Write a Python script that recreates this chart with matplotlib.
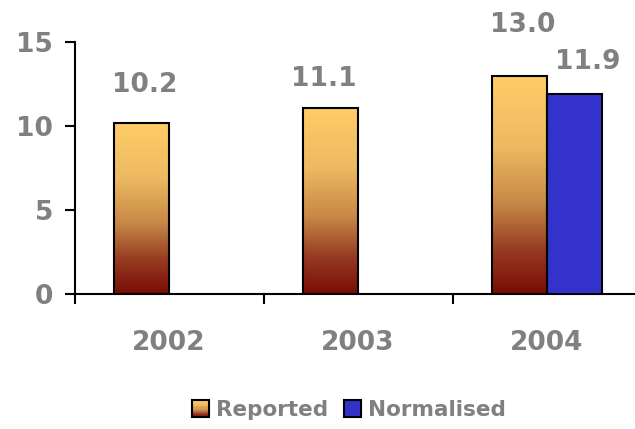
import matplotlib
matplotlib.use("Agg")
import matplotlib.pyplot as plt
import numpy as np
from matplotlib.colors import LinearSegmentedColormap
from matplotlib.patches import Rectangle
from matplotlib.legend_handler import HandlerBase

# ---- data ----
years = ["2002", "2003", "2004"]
reported = [10.2, 11.1, 13.0]
normalised = [None, None, 11.9]
reported_labels = ["10.2", "11.1", "13.0"]
normalised_labels = [None, None, "11.9"]
yticks = [0, 5, 10, 15]

# ---- style ----
GRAY = "#808080"
BLUE = "#3333CC"
FONT = "DejaVu Sans"
FS = 19
grad = LinearSegmentedColormap.from_list(
    "grad",
    [(0.0, "#7A0C06"), (0.2, "#963C22"), (0.42, "#C88A48"),
     (0.68, "#EDBA62"), (1.0, "#FFCC66")])

# label offsets in pixels (dx, dy from bar top to baseline)
rep_off = [(3.5, 31), (-6.5, 22), (3.5, 44)]
norm_off = [None, None, (13, 25)]

fig = plt.figure(figsize=(6.35, 4.29), dpi=100)
ax = fig.add_axes([74.5 / 635, 1 - 294 / 429, 567 / 635, 252 / 429])

w = 0.29
x = np.arange(len(years))
px2pt = 72 / 100

rep_bars = ax.bar(x - w / 2, reported, width=w, facecolor="none",
                  edgecolor="black", linewidth=1.5, zorder=3)
for b in rep_bars:
    x0, y0 = b.get_x(), b.get_y()
    bw, bh = b.get_width(), b.get_height()
    img = ax.imshow(np.linspace(0, 1, 256).reshape(-1, 1), cmap=grad,
                    origin="lower", extent=[x0, x0 + bw, 0, bh],
                    aspect="auto", zorder=2, interpolation="bilinear")
    img.set_clip_path(b)

nx = [xi + w / 2 for xi, v in zip(x, normalised) if v is not None]
nv = [v for v in normalised if v is not None]
ax.bar(nx, nv, width=w, facecolor=BLUE, edgecolor="black",
       linewidth=1.5, zorder=3)

for xi, v, lab, off in zip(x, reported, reported_labels, rep_off):
    ax.annotate(lab, xy=(xi - w / 2, v),
                xytext=(off[0] * px2pt, off[1] * px2pt),
                textcoords="offset points", ha="center", va="baseline",
                fontsize=FS, fontweight="bold", color=GRAY, family=FONT,
                annotation_clip=False)
for xi, v, lab, off in zip(x, normalised, normalised_labels, norm_off):
    if v is None:
        continue
    ax.annotate(lab, xy=(xi + w / 2, v),
                xytext=(off[0] * px2pt, off[1] * px2pt),
                textcoords="offset points", ha="center", va="baseline",
                fontsize=FS, fontweight="bold", color=GRAY, family=FONT,
                annotation_clip=False)

ax.set_xlim(-0.5, len(years) - 0.5)
ax.set_ylim(0, 15)
ax.set_yticks(yticks)
ax.set_yticklabels([str(t) for t in yticks])
ax.set_xticks(np.arange(-0.5, len(years), 1.0))
ax.set_xticklabels([])
ax.set_xticks(x, minor=True)
ax.set_xticklabels(years, minor=True)
ax.tick_params(axis="x", which="major", direction="out", length=7.5,
               width=1.5, color="black")
ax.tick_params(axis="x", which="minor", length=0, pad=26,
               labelsize=FS, labelcolor=GRAY)
ax.tick_params(axis="y", direction="out", length=7.5, width=1.5,
               pad=8, labelsize=FS, labelcolor=GRAY)
for lab in ax.get_xticklabels(minor=True) + ax.get_yticklabels():
    lab.set_fontweight("bold")
    lab.set_family(FONT)

for s in ["top", "right"]:
    ax.spines[s].set_visible(False)
for s in ["left", "bottom"]:
    ax.spines[s].set_linewidth(1.5)
    ax.spines[s].set_color("black")
ax.set_facecolor("white")


class GradHandler(HandlerBase):
    def create_artists(self, legend, orig_handle, xdescent, ydescent,
                       width, height, fontsize, trans):
        n = 16
        arts = []
        for i in range(n):
            r = Rectangle((-xdescent, -ydescent + height * i / n),
                          width, height / n + 0.01,
                          facecolor=grad((i + 0.5) / n), edgecolor="none",
                          transform=trans)
            arts.append(r)
        arts.append(Rectangle((-xdescent, -ydescent), width, height,
                              facecolor="none", edgecolor="black",
                              linewidth=1.5, transform=trans))
        return arts


h_rep = Rectangle((0, 0), 1, 1, facecolor="#E0A050", edgecolor="black")
h_norm = Rectangle((0, 0), 1, 1, facecolor=BLUE, edgecolor="black",
                   linewidth=1.5)
leg = fig.legend([h_rep, h_norm], ["Reported", "Normalised"],
                 handler_map={h_rep: GradHandler()},
                 loc="center", bbox_to_anchor=(349 / 635, 1 - 410 / 429),
                 ncol=2, frameon=False, handlelength=0.8, handleheight=0.8,
                 handletextpad=0.35, columnspacing=0.7,
                 prop={"family": FONT, "weight": "bold", "size": 15.5})
for t in leg.get_texts():
    t.set_color(GRAY)

fig.savefig("out.png", dpi=100, facecolor="white")
